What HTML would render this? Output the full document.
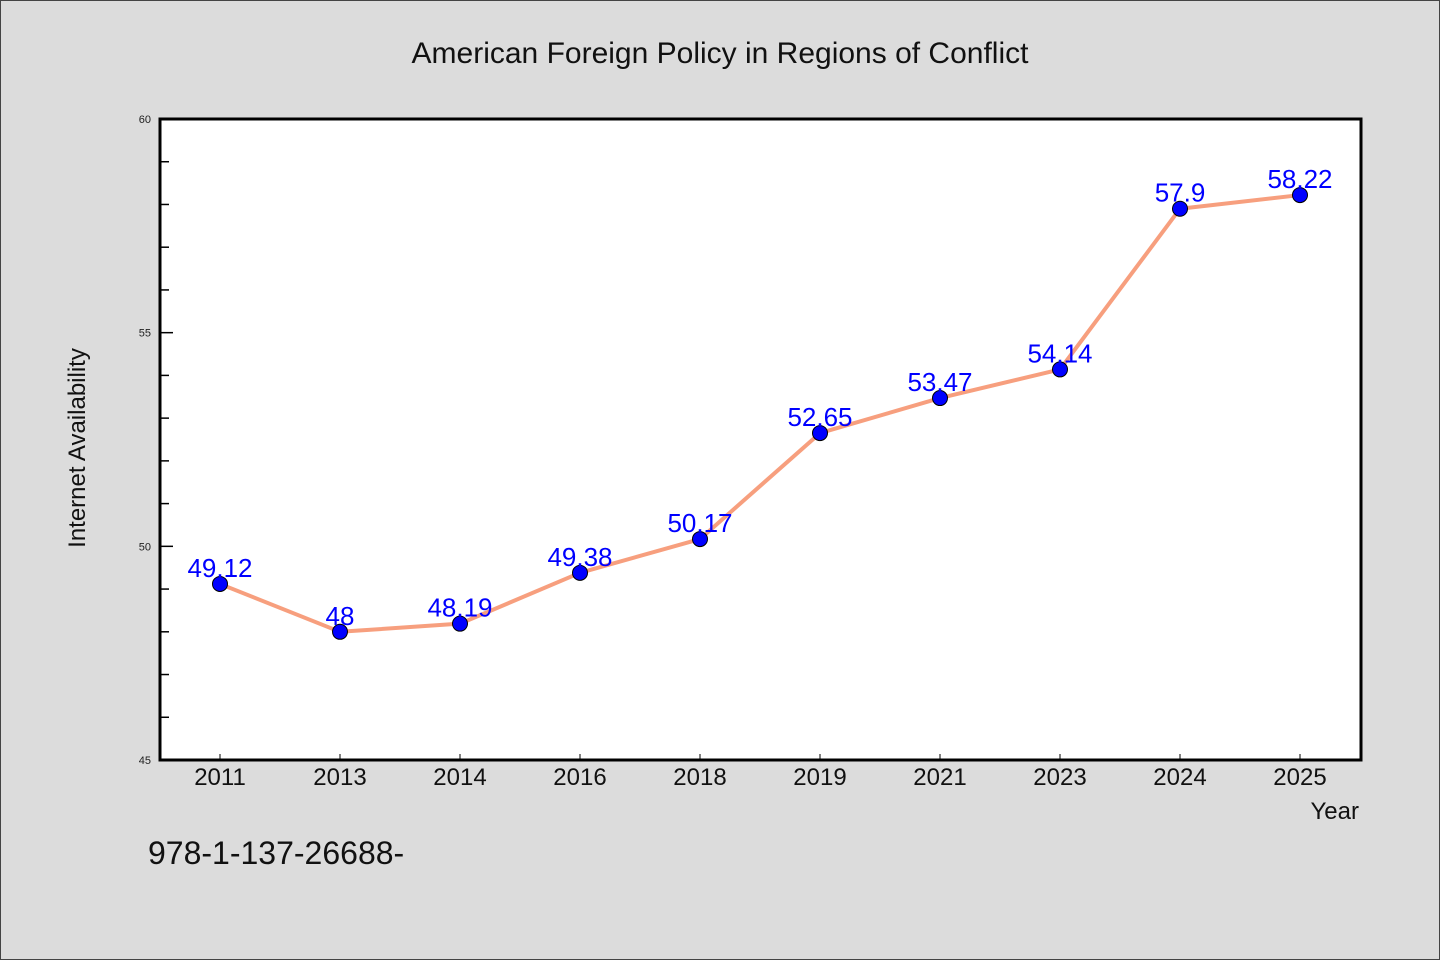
<!DOCTYPE html>
<html><head><meta charset="utf-8"><style>
html,body{margin:0;padding:0;background:#dcdcdc;}
svg{display:block;font-family:"WenQuanYi Zen Hei","Liberation Sans",sans-serif;}
</style></head><body>
<svg id="chart" width="1440" height="960">
<rect x="0.5" y="0.5" width="1439" height="959" fill="#dcdcdc" stroke="#444"/>
<text x="720" y="63" text-anchor="middle" font-size="30" fill="#111">American Foreign Policy in Regions of Conflict</text>
<rect x="160" y="119" width="1201" height="641" fill="#fff"/>
<g id="axes"></g>
<g id="series"></g>
<rect x="160" y="119" width="1201" height="641" fill="none" stroke="#000" stroke-width="3"/>
<text transform="translate(85,448) rotate(-90)" text-anchor="middle" font-size="24" fill="#111">Internet Availability</text>
<text x="1359" y="819" text-anchor="end" font-size="24" fill="#111">Year</text>
<text x="148" y="864" font-size="32" fill="#111">978-1-137-26688-</text>
</svg>
<script>
const categories=["2011","2013","2014","2016","2018","2019","2021","2023","2024","2025"];
const values=[49.12,48,48.19,49.38,50.17,52.65,53.47,54.14,57.9,58.22];
const valueLabels=["49.12","48","48.19","49.38","50.17","52.65","53.47","54.14","57.9","58.22"];
const yTicks=[45,50,55,60];
const yMin=45,yMax=60;
const NS="http://www.w3.org/2000/svg";
const L=160,R=1361,T=119,B=760;
function xs(i){return 220+i*(1300-220)/(categories.length-1);}
function ys(v){return B-(v-yMin)/(yMax-yMin)*(B-T);}
function mk(tag,attrs,parent,text){const e=document.createElementNS(NS,tag);for(const k in attrs)e.setAttribute(k,attrs[k]);if(text!==undefined)e.textContent=text;parent.appendChild(e);return e;}
const ax=document.getElementById('axes'),sr=document.getElementById('series');
for(let v=yMin;v<=yMax;v+=1){
  const y=ys(v);const major=yTicks.includes(v);
  const t=mk('line',{x1:L,x2:L+(major?13:9),y1:y,y2:y,stroke:'#000','stroke-width':1.5},ax);
  
  
}
yTicks.forEach(v=>{
  const t=mk('text',{x:151,y:ys(v)+4,'text-anchor':'end','font-size':11,fill:'#222'},ax,String(v));
  
  
});
categories.forEach((c,i)=>{
  const x=xs(i);
  const t=mk('line',{x1:x,x2:x,y1:B,y2:B-6,stroke:'#000','stroke-width':1},ax);
  
  
  const l=mk('text',{x:x,y:785,'text-anchor':'middle','font-size':24,fill:'#111'},ax,c);
  
  
});
const pts=values.map((v,i)=>xs(i)+','+ys(v)).join(' ');
const line=mk('polyline',{points:pts,fill:'none',stroke:'#f79f7e','stroke-width':4,'stroke-linejoin':'round'},sr);


values.forEach((v,i)=>{
  const c=mk('circle',{cx:xs(i),cy:ys(v),r:7.5,fill:'#0000ff',stroke:'#000','stroke-width':1},sr);
  
  
});
values.forEach((v,i)=>{
  const t=mk('text',{x:xs(i),y:ys(v)-7,'text-anchor':'middle','font-size':26,fill:'#0000ff'},sr,valueLabels[i]);
  
  
});
</script>
</body></html>
